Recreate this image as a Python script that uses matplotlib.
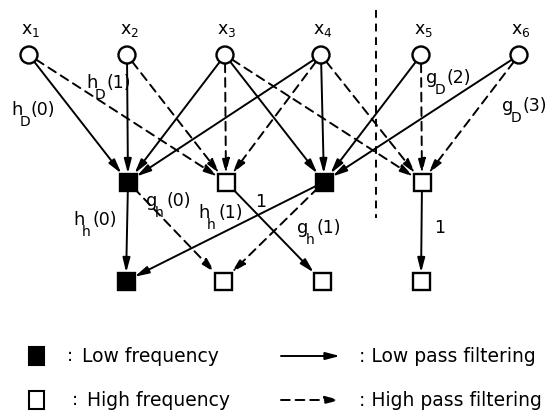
import matplotlib
matplotlib.use("Agg")
import matplotlib.pyplot as plt
from matplotlib.patches import Circle, Rectangle, FancyArrowPatch
import numpy as np

plt.rcParams['font.family'] = ['DejaVu Sans']
plt.rcParams['mathtext.default'] = 'regular'

# --- diagram data -------------------------------------------------------
input_labels = [r'$x_1$', r'$x_2$', r'$x_3$', r'$x_4$', r'$x_5$', r'$x_6$']
mid_low = [True, False, True, False]      # filled = low frequency
bot_low = [True, False, False, False]

# edges: (source, target, low pass?)
edges_in_mid = [(0, 0, True), (1, 0, True), (2, 0, True), (3, 0, True),
                (0, 1, False), (1, 1, False), (2, 1, False), (3, 1, False),
                (2, 2, True), (3, 2, True), (4, 2, True), (5, 2, True),
                (2, 3, False), (3, 3, False), (4, 3, False), (5, 3, False)]
edges_mid_bot = [(0, 0, True), (2, 0, True), (0, 1, False), (2, 1, False),
                 (1, 2, True), (3, 3, True)]

# coefficient labels: (letter, subscript, argument)
coef_labels = [('h', 'D', '(0)'), ('h', 'D', '(1)'), ('g', 'D', '(2)'), ('g', 'D', '(3)'),
               ('h', 'h', '(0)'), ('g', 'h', '(0)'), ('h', 'h', '(1)'), ('g', 'h', '(1)')]
unit_labels = ['1', '1']
legend_nodes = ['Low frequency', 'High frequency']
legend_edges = [': Low pass filtering', ': High pass filtering']

# --- layout (pixels) ----------------------------------------------------
input_x = [29, 127, 225, 321, 421, 519]
mid_x = [128, 226, 324, 422]
bot_x = [126, 223, 322, 421]
level_y = [55, 182, 281]
coef_pos = [(11, 115), (86, 88), (426, 83), (502, 111),
            (73, 225), (146, 206), (198, 218), (297, 233)]
unit_pos = [(261, 207), (440, 233)]
r = 8.5
half = 8.5

fig = plt.figure(figsize=(5.56, 4.12), dpi=100)
ax = fig.add_axes([0, 0, 1, 1])
ax.set_xlim(0, 556)
ax.set_ylim(412, 0)
ax.axis('off')

dash = (0, (4.5, 3))
astyle = '-|>,head_length=0.85,head_width=0.22'


def arrow(p0, p1, low, start_r=0.0):
    p0 = np.array(p0, float)
    p1 = np.array(p1, float)
    d = p1 - p0
    u = d / np.hypot(*d)
    t = min(half / abs(d[0]) if d[0] else np.inf, half / abs(d[1]))
    a = p0 + u * start_r
    b = p1 - d * t
    ax.add_patch(FancyArrowPatch(a, b, arrowstyle=astyle,
                                 mutation_scale=10, lw=1.4, color='black',
                                 linestyle='-' if low else dash,
                                 shrinkA=0, shrinkB=0, zorder=2))


for s, t, low in edges_in_mid:
    arrow((input_x[s], level_y[0]), (mid_x[t], level_y[1]), low, start_r=r)
for s, t, low in edges_mid_bot:
    arrow((mid_x[s], level_y[1]), (bot_x[t], level_y[2]), low, start_r=half)

for x, lab in zip(input_x, input_labels):
    ax.add_patch(Circle((x, level_y[0]), r, fc='white', ec='black', lw=1.7, zorder=3))
    ax.text(x + 2, level_y[0] - 25, lab, ha='center', va='center', fontsize=12.5)

for xs, lows, y in [(mid_x, mid_low, level_y[1]), (bot_x, bot_low, level_y[2])]:
    for x, lo in zip(xs, lows):
        ax.add_patch(Rectangle((x - half, y - half), 2 * half, 2 * half,
                               fc='black' if lo else 'white', ec='black', lw=1.7, zorder=3))

# letter, lowered subscript underneath, then argument
for (base, sub, arg), (x, y) in zip(coef_labels, coef_pos):
    ax.text(x, y, base, ha='left', va='baseline', fontsize=13)
    ax.text(x + 9, y + 11, sub, ha='left', va='baseline', fontsize=10)
    ax.text(x + 20, y, arg, ha='left', va='baseline', fontsize=12.5)
for lab, (x, y) in zip(unit_labels, unit_pos):
    ax.text(x, y, lab, ha='center', va='baseline', fontsize=12.5)

ax.plot([376, 376], [10, 218], color='black', lw=1.4, linestyle=(0, (4, 3)))

# legend
leg_y = [356, 400]
for y, lab, fill, cx in zip(leg_y, legend_nodes, ['black', 'white'], [67, 72]):
    ax.add_patch(Rectangle((29, y - 9), 15, 18, fc=fill, ec='black', lw=1.5))
    ax.text(cx, y, ':', ha='left', va='center', fontsize=13)
    ax.text(cx + 15, y, lab, ha='left', va='center', fontsize=13.5)
for y, lab, low in zip(leg_y, legend_edges, [True, False]):
    ax.add_patch(FancyArrowPatch((281, y), (340, y), arrowstyle=astyle,
                                 mutation_scale=10, lw=1.4, color='black',
                                 linestyle='-' if low else dash, shrinkA=0, shrinkB=0))
    ax.text(359, y, lab, ha='left', va='center', fontsize=13.5)

fig.savefig('out.png', dpi=100)
